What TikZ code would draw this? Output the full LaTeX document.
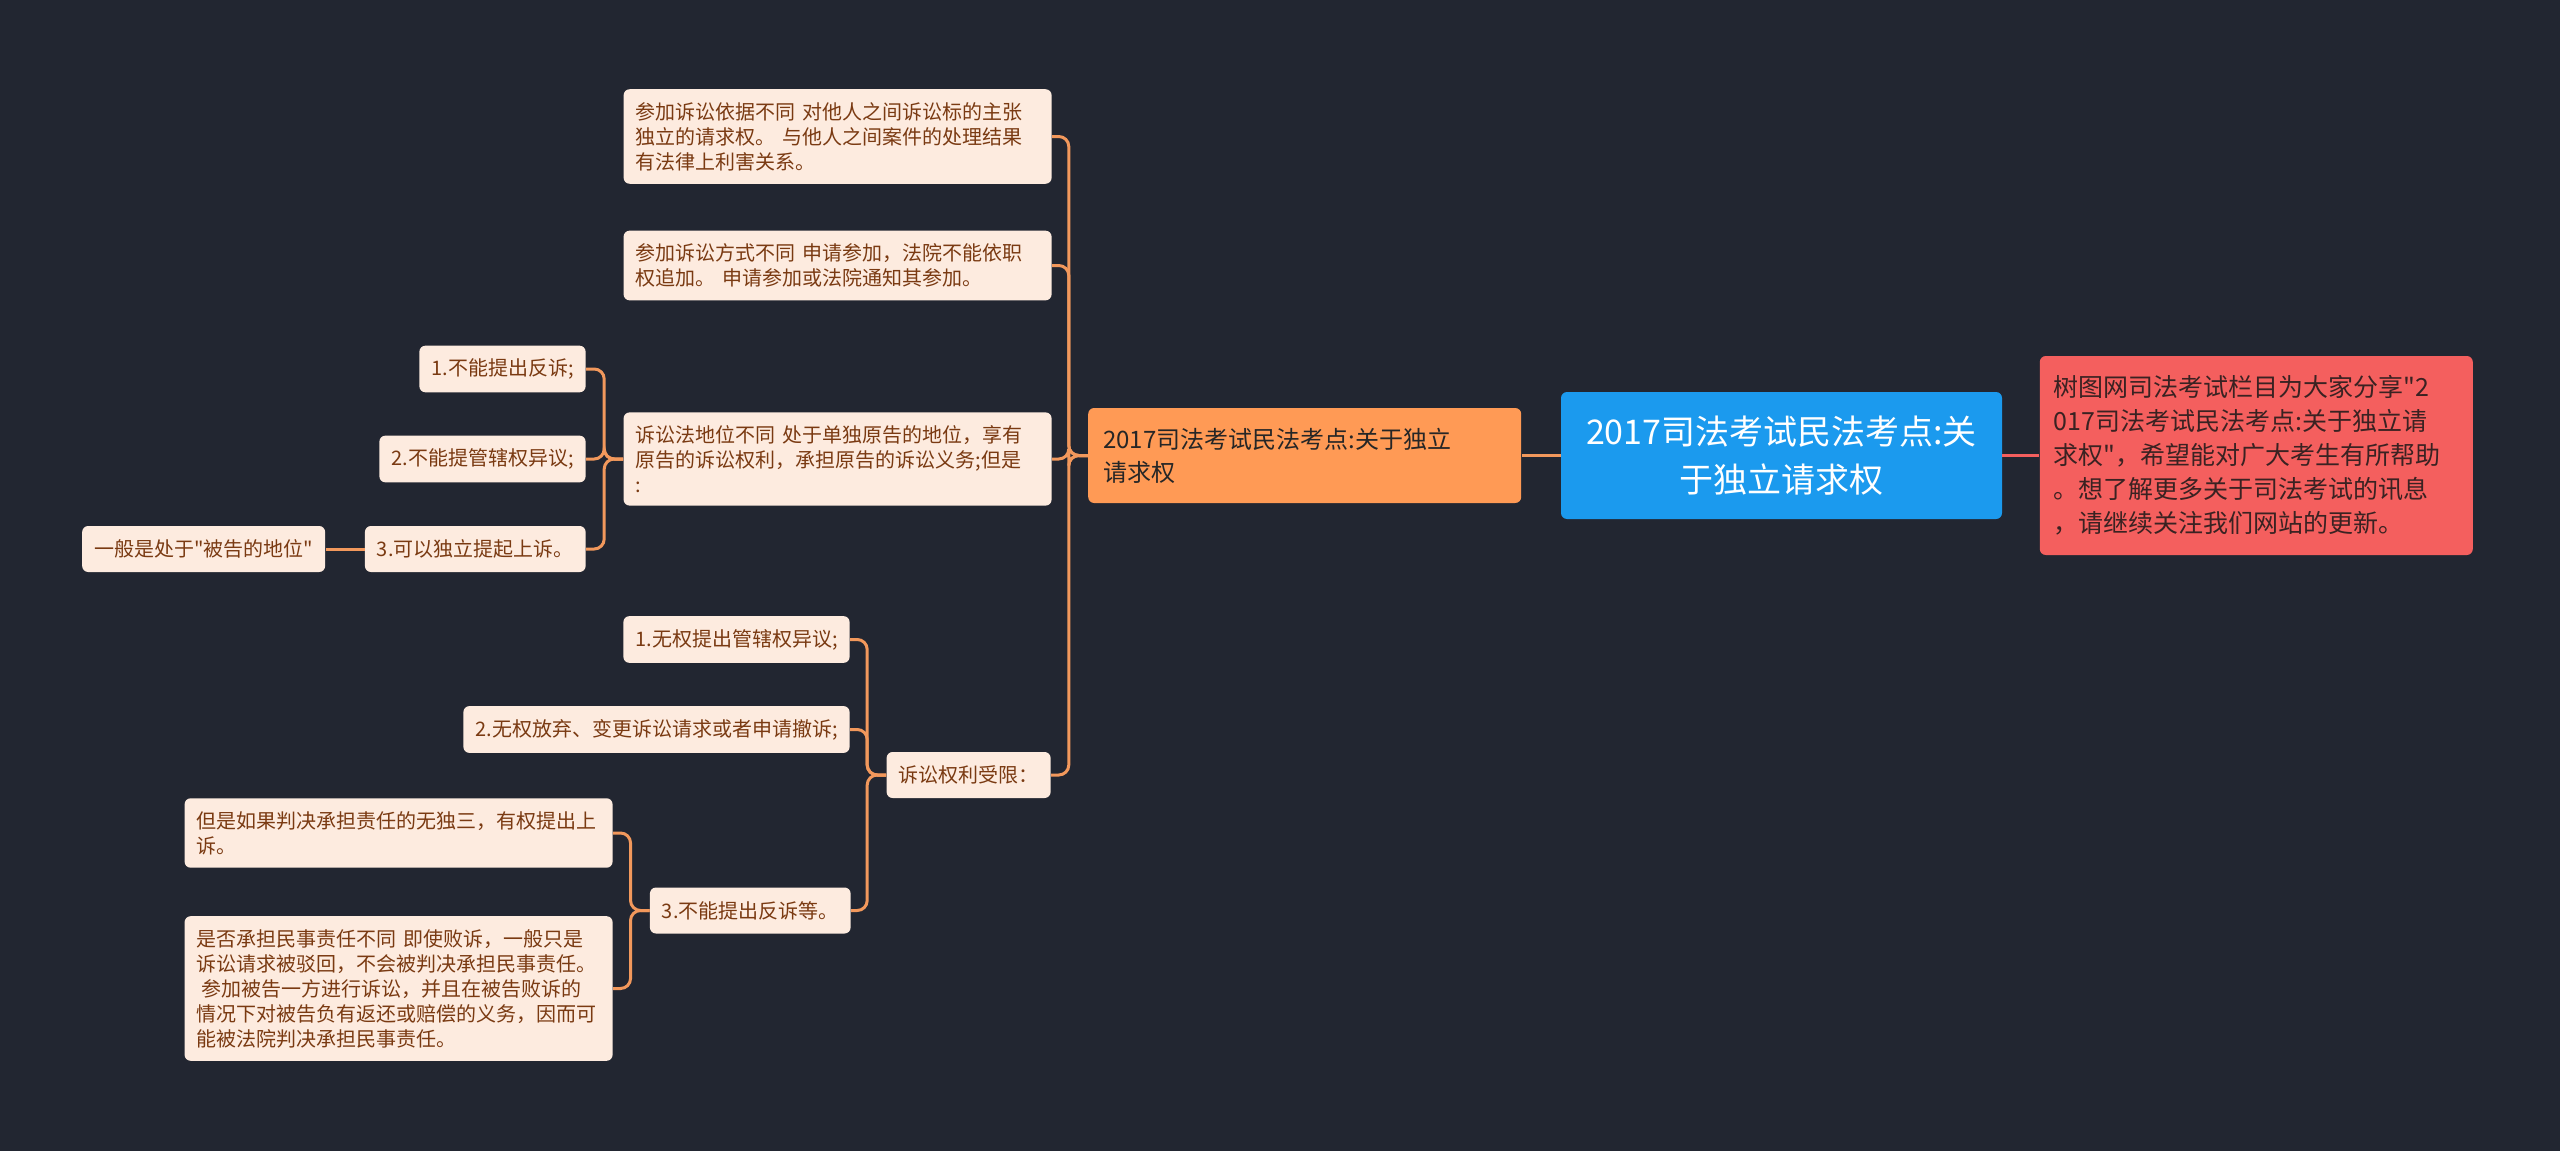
\documentclass[tikz,border=0pt]{standalone}
\usepackage{fontspec}
\setmainfont{Noto Sans CJK SC}[Ligatures=TeXOff]
\usepackage{xcolor}
\usetikzlibrary{positioning}
\definecolor{bgdark}{HTML}{222631}
\definecolor{leaffill}{HTML}{FDEBDF}
\definecolor{leaftext}{HTML}{7A3A12}
\definecolor{linkorange}{HTML}{F2985C}
\definecolor{topicfill}{HTML}{FF9A55}
\definecolor{rootfill}{HTML}{1B9AEE}
\definecolor{notefill}{HTML}{F45F5E}
\definecolor{notetext}{HTML}{3A2222}

\begin{document}
\begin{tikzpicture}[
    x=0.5pt, y=-0.5pt,
    font=\fontsize{10}{12.5}\selectfont,
    box/.style={rounded corners=3pt, inner xsep=6pt, inner ysep=6.5pt, align=left},
    leafnode/.style={box, fill=leaffill, text=leaftext, anchor=east, minimum height=23pt},
    wideleaf/.style={leafnode, text width=202pt},
    topicnode/.style={box, fill=topicfill, text=black!85, text width=201.5pt, inner xsep=7.5pt, minimum height=47.5pt, font=\fontsize{12}{16.5}\selectfont},
    rootnode/.style={box, fill=rootfill, text=white, align=center, minimum width=220.5pt, minimum height=63.5pt, font=\fontsize{17}{24}\selectfont},
    notenode/.style={box, fill=notefill, text=notetext, text width=202.5pt, inner xsep=7pt, minimum height=99.5pt, font=\fontsize{12.5}{17}\selectfont},
    link/.style={draw=linkorange, line width=1.5pt, rounded corners=5pt}
]
\useasboundingbox (0,0) rectangle (2560,1151);
\fill[bgdark] (0,0) rectangle (2560,1151);
\node[rootnode] (root) at (1781.5,455.5) {2017司法考试民法考点:关\\于独立请求权};
\node[topicnode, left=19.5pt of root] (topic) {2017司法考试民法考点:关于独立\\请求权};
\node[notenode, right=18.5pt of root] (note) {树图网司法考试栏目为大家分享"2\\017司法考试民法考点:关于独立请\\求权"，希望能对广大考生有所帮助\\。想了解更多关于司法考试的讯息\\，请继续关注我们网站的更新。};
\node[wideleaf] (l1) at (1052,136.5) {参加诉讼依据不同 对他人之间诉讼标的主张\\独立的请求权。 与他人之间案件的处理结果\\有法律上利害关系。};
\node[wideleaf] (l2) at (1052,265.5) {参加诉讼方式不同 申请参加，法院不能依职\\权追加。 申请参加或法院通知其参加。};
\node[wideleaf] (l3) at (1052,459) {诉讼法地位不同 处于单独原告的地位，享有\\原告的诉讼权利，承担原告的诉讼义务;但是\\:};
\node[leafnode] (l4) at (1051,775) {诉讼权利受限：};
\node[leafnode] (a1) at (586,369) {1.不能提出反诉;};
\node[leafnode] (a2) at (586,459) {2.不能提管辖权异议;};
\node[leafnode] (a3) at (586,549) {3.可以独立提起上诉。};
\node[leafnode, left=19.5pt of a3] (a31) {一般是处于"被告的地位"};
\node[leafnode] (b1) at (850,639.5) {1.无权提出管辖权异议;};
\node[leafnode] (b2) at (850,729.5) {2.无权放弃、变更诉讼请求或者申请撤诉;};
\node[leafnode] (b3) at (851,910.5) {3.不能提出反诉等。};
\node[wideleaf] (c1) at (613,833) {但是如果判决承担责任的无独三，有权提出上\\诉。};
\node[wideleaf] (c2) at (613,988.5) {是否承担民事责任不同 即使败诉，一般只是\\诉讼请求被驳回，不会被判决承担民事责任。\\\hspace*{2.5pt}参加被告一方进行诉讼，并且在被告败诉的\\情况下对被告负有返还或赔偿的义务，因而可\\能被法院判决承担民事责任。};
\draw[link] (root) -- (topic);
\draw[link, draw=notefill] (root) -- (note);
\foreach \c in {l1,l2,l3,l4}
  \draw[link] (topic.west) -- ++(-9.5pt,0) |- (\c.east);
\foreach \c in {a1,a2,a3}
  \draw[link] (l3.west) -- ++(-9.5pt,0) |- (\c.east);
\draw[link] (a3) -- (a31);
\foreach \c in {b1,b2,b3}
  \draw[link] (l4.west) -- ++(-9.5pt,0) |- (\c.east);
\foreach \c in {c1,c2}
  \draw[link] (b3.west) -- ++(-9.5pt,0) |- (\c.east);
\end{tikzpicture}
\end{document}
